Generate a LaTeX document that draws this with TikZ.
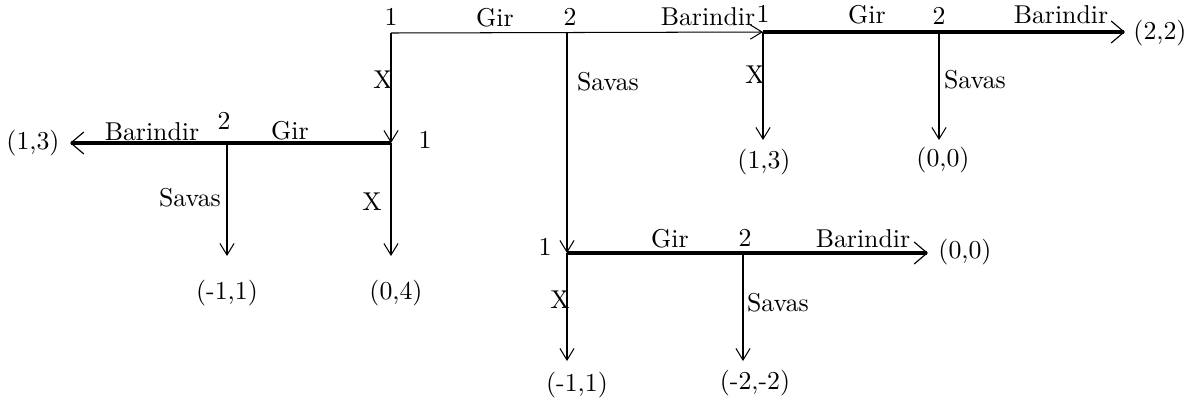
\documentclass[tikz,border=0pt]{standalone}
\usetikzlibrary{arrows.meta}
\begin{document}
\begin{tikzpicture}[x=0.3876pt,y=-0.3876pt,
  lbl/.style={inner sep=0pt},
  move/.style={draw, -{Straight Barb[length=4.5pt,width=5.5pt]}},
  eqm/.style={draw, line width=1.6pt, -{Straight Barb[length=5pt,width=8.5pt,line width=0.45pt]}}]
\useasboundingbox (0,0) rectangle (1192,409);
% decision points
\coordinate (A) at (391,33);
\coordinate (B) at (567,33);
\coordinate (C) at (763,32);
\coordinate (D) at (939,32);
\coordinate (L1) at (391,143);
\coordinate (L2) at (227,143);
\coordinate (M1) at (567,253);
\coordinate (M2) at (743,253);
% arrow ends
\coordinate (Ct) at (763,140);
\coordinate (Dt) at (939,140);
\coordinate (Ltip) at (70,143);
\coordinate (L2t) at (227,256);
\coordinate (L1t) at (391,256);
\coordinate (Rtip) at (1125,32);
\coordinate (Mtip) at (928,253);
\coordinate (M1t) at (567,361);
\coordinate (M2t) at (743,361);
% payoffs
\node[lbl] (p1) at (1160,33) {(2,2)};
\node[lbl] (p2) at (764,162) {(1,3)};
\node[lbl] (p3) at (943,160) {(0,0)};
\node[lbl] (p4) at (33,143) {(1,3)};
\node[lbl] (p5) at (227,293) {(-1,1)};
\node[lbl] (p6) at (396,293) {(0,4)};
\node[lbl] (p7) at (965,252) {(0,0)};
\node[lbl] (p8) at (577,385) {(-1,1)};
\node[lbl] (p9) at (755,383) {(-2,-2)};
% player labels
\node[lbl] (a1) at (391,17) {1};
\node[lbl] (b2) at (570,17) {2};
\node[lbl] (c1) at (763,14) {1};
\node[lbl] (d2) at (939,16) {2};
\node[lbl] (l1) at (425,140) {1};
\node[lbl] (l2) at (224,121) {2};
\node[lbl] (m1) at (545,247) {1};
\node[lbl] (m2) at (745,238) {2};
% move labels
\node[lbl] (ta) at (495,18) {Gir};
\node[lbl] (tb) at (708,17) {Barindir};
\node[lbl] (tc) at (867,15) {Gir};
\node[lbl] (td) at (1061,15) {Barindir};
\node[lbl] (tx1) at (383,80) {X};
\node[lbl] (ts1) at (608,82) {Savas};
\node[lbl] (tx2) at (755,75) {X};
\node[lbl] (ts2) at (975,80) {Savas};
\node[lbl] (tl1) at (290,131) {Gir};
\node[lbl] (tl2) at (152,132) {Barindir};
\node[lbl] (tl3) at (190,198) {Savas};
\node[lbl] (tl4) at (372,202) {X};
\node[lbl] (tm1) at (670,239) {Gir};
\node[lbl] (tm2) at (863,239) {Barindir};
\node[lbl] (tm3) at (560,300) {X};
\node[lbl] (tm4) at (778,303) {Savas};
% edges
\draw[move] (A) -- (C);
\draw[move] (A) -- (L1);
\draw[move] (B) -- (M1);
\draw[eqm] (C) -- (Rtip);
\draw[move] (C) -- (Ct);
\draw[move] (D) -- (Dt);
\draw[eqm] (L1) -- (Ltip);
\draw[move] (L1) -- (L1t);
\draw[move] (L2) -- (L2t);
\draw[eqm] (M1) -- (Mtip);
\draw[move] (M1) -- (M1t);
\draw[move] (M2) -- (M2t);
\end{tikzpicture}
\end{document}
